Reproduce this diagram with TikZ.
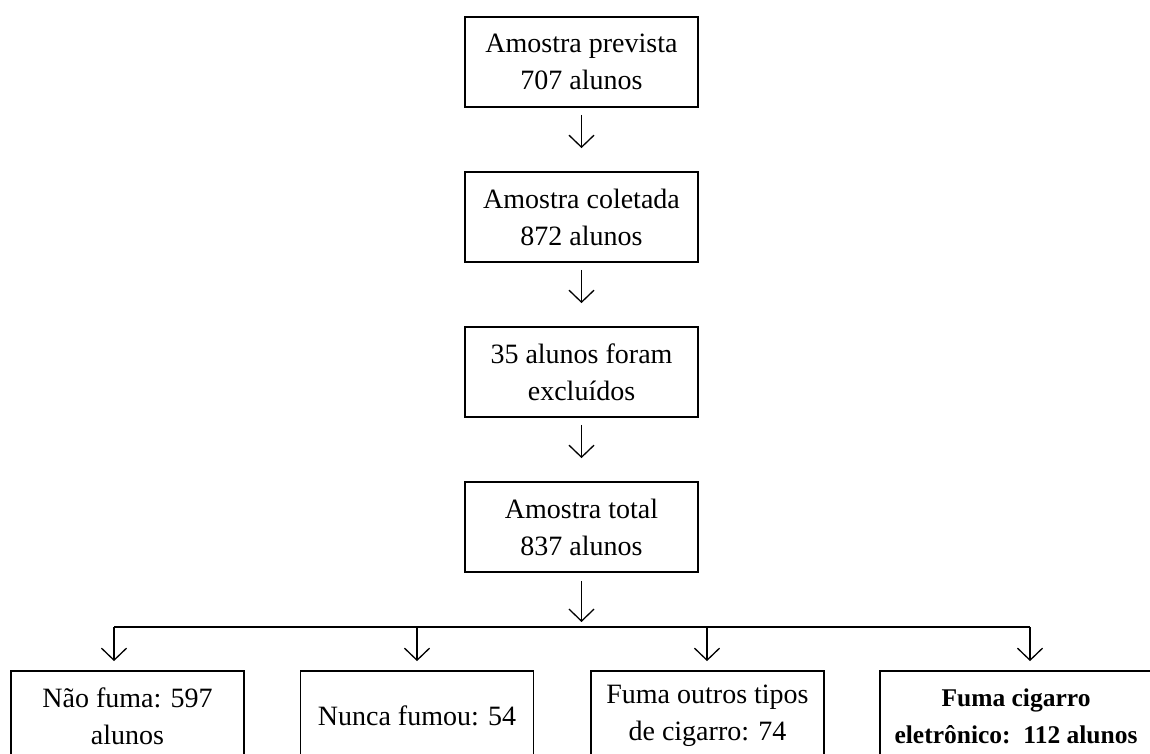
\documentclass[tikz,border=0pt]{standalone}
\usepackage{fontspec}
\setmainfont{Liberation Serif}
\usetikzlibrary{arrows.meta}

\begin{document}
\begin{tikzpicture}[x=1pt, y=-1pt, node distance=155pt,
  caixa/.style={draw, line width=1.8pt, rectangle, minimum width=233pt, minimum height=90pt, inner sep=0pt, align=center, font=\fontsize{28}{37}\selectfont},
  seta/.style={line width=1.3pt, -{Straight Barb[length=12pt,width=25pt]}}]
\useasboundingbox (0,0) rectangle (1150,754);
\clip (0,0) rectangle (1150,754);
\node[caixa] (1) at (581.5,62) {Amostra prevista\\707 alunos};
\node[caixa] (2) [below of = 1] {Amostra coletada\\872 alunos};
\node[caixa] (3) [below of = 2] {35 alunos foram\\excluídos};
\node[caixa] (4) [below of = 3] {Amostra total\\837 alunos};
\node[caixa] (a) at (127.5,716) {Não fuma: 597\\alunos};
\node[caixa] (b) at (417,716) {Nunca fumou: 54};
\node[caixa] (c) at (707.5,716) {Fuma outros tipos\\de cigarro: 74};
\node[caixa, minimum width=272pt, font=\fontsize{25.5}{37}\selectfont\bfseries] (d) at (1016,716) {Fuma cigarro\\eletrônico:\ \ 112 alunos};
\coordinate (m) at (581.5,622);
\coordinate (ra) at (114,627);
\coordinate (rb) at (417,627);
\coordinate (rc) at (707,627);
\coordinate (rd) at (1030,627);
\draw[seta, shorten <=7pt, shorten >=23pt] (1) -- (2);
\draw[seta, shorten <=7pt, shorten >=23pt] (2) -- (3);
\draw[seta, shorten <=7pt, shorten >=23pt] (3) -- (4);
\draw[seta, shorten <=8pt] (4) -- (m);
\draw[line width=1.3pt] (ra) -- (rd);
\draw[seta, shorten >=9pt] (ra) -- (ra |- a.north);
\draw[seta, shorten >=9pt] (rb) -- (rb |- b.north);
\draw[seta, shorten >=9pt] (rc) -- (rc |- c.north);
\draw[seta, shorten >=9pt] (rd) -- (rd |- d.north);
\end{tikzpicture}
\end{document}
